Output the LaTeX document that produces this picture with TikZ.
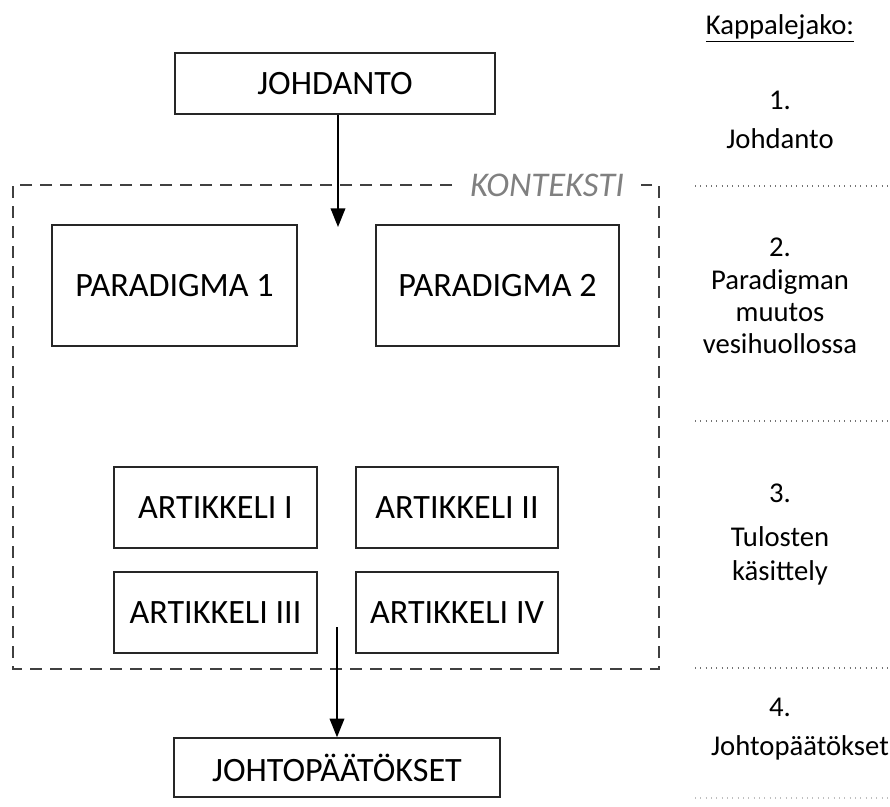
\documentclass[tikz,border=0pt]{standalone}
\usepackage{fontspec}
\setmainfont{Carlito}
\usetikzlibrary{arrows.meta}
\begin{document}
\begin{tikzpicture}[x=0.75pt,y=-0.75pt,
  box/.style={draw=black!85,line width=1.1pt,inner sep=0pt,font=\fontsize{25.6}{28}\selectfont},
  flow/.style={draw=black,line width=1.1pt,-{Triangle[length=14pt,width=11pt]}},
  side/.style={font=\fontsize{21.5}{24}\selectfont,align=center},
  sep/.style={draw=black!55,line width=1pt,dash pattern=on 0.8pt off 3.2pt}]
\useasboundingbox (0,0) rectangle (890,807);

% context frame with its label set into the top edge
\draw[black!75,line width=1.1pt,dash pattern=on 9pt off 6pt]
  (452,185) -- (13,185) -- (13,669) -- (659,669) -- (659,185) -- (641,185);
\node[font=\fontsize{26}{28}\selectfont\itshape,text=black!50] (ctx) at (547,185) {KONTEKSTI};

% main boxes (sizes in pt)
\node[box,minimum width=240pt,minimum height=45.75pt] (intro) at (335,83.5) {JOHDANTO};
\node[box,minimum width=183.75pt,minimum height=90.75pt] (p1) at (174.5,285.5) {PARADIGMA 1};
\node[box,minimum width=182.25pt,minimum height=90.75pt] (p2) at (497.5,285.5) {PARADIGMA 2};
\node[box,minimum width=152.25pt,minimum height=60.75pt] (a1) at (215.5,507.5) {ARTIKKELI I};
\node[box,minimum width=151.5pt,minimum height=60.75pt] (a2) at (457,507.5) {ARTIKKELI II};
\node[box,minimum width=152.25pt,minimum height=60.75pt] (a3) at (215.5,612.5) {ARTIKKELI III};
\node[box,minimum width=151.5pt,minimum height=60.75pt] (a4) at (457,612.5) {ARTIKKELI IV};
\node[box,minimum width=244.5pt,minimum height=44.25pt] (concl) at (337,767.5) {JOHTOPÄÄTÖKSET};

% connectors
\coordinate (inTip) at (338,227);
\coordinate (outStart) at (337,627);
\draw[flow] (intro.south -| inTip) -- (inTip);
\draw[flow] (outStart) -- (outStart |- concl.north);

% chapter outline on the right
\node[side] (head) at (780,28) {\underline{Kappalejako:}};
\node[side] (n1) at (780,100) {1.};
\node[side] (t1) at (780,139) {Johdanto};
\node[side] (n2) at (780,247) {2.};
\node[side] (t2) at (780,312) {Paradigman\\muutos\\vesihuollossa};
\node[side,font=\fontsize{21.5}{25}\selectfont] (t3) at (780,556) {Tulosten\\käsittely};
\node[side] (n3) at (780,493) {3.};
\node[side] (n4) at (780,707) {4.};
\node[side] (t4) at (800,748) {Johtopäätökset};

\coordinate (s1a) at (695,186); \coordinate (s1b) at (890,186);
\coordinate (s2a) at (695,421); \coordinate (s2b) at (890,421);
\coordinate (s3a) at (695,668); \coordinate (s3b) at (890,668);
\coordinate (s4a) at (695,798); \coordinate (s4b) at (890,798);
\draw[sep] (s1a) -- (s1b);
\draw[sep] (s2a) -- (s2b);
\draw[sep] (s3a) -- (s3b);
\draw[sep,draw=black!25] (s4a) -- (s4b);
\end{tikzpicture}
\end{document}
